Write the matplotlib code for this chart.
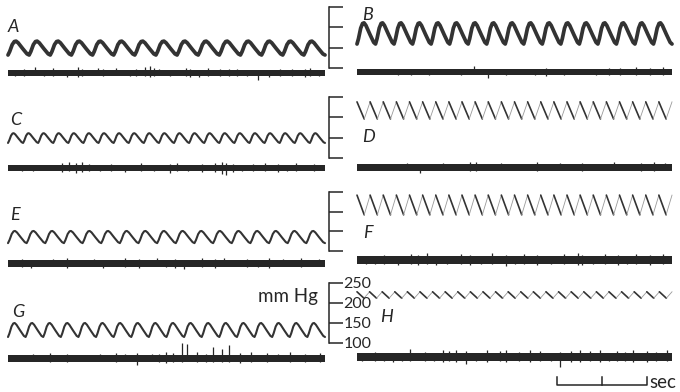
import numpy as np
import matplotlib
matplotlib.use("Agg")
import matplotlib.pyplot as plt

plt.rcParams['font.family'] = ['Lato', 'DejaVu Sans']

# panel letters, beats per trace, systolic / diastolic pressure (mm Hg)
panels = ["A", "B", "C", "D", "E", "F", "G", "H"]
beats = [15, 17, 21, 24, 17, 24, 18, 25]
systolic = [166, 211, 161, 238, 151, 242, 150, 228]
diastolic = [132, 159, 137, 196, 120, 192, 115, 212]
wave_kind = ["thick", "thick", "thin", "vee", "thin", "vee", "thin", "vee"]

# one beat of the rounded pressure wave (phase, fraction of pulse pressure)
wave_phase = [0.0, 0.08, 0.2, 0.3, 0.38, 0.48, 0.7, 0.9, 1.0]
wave_level = [0.0, 0.25, 0.75, 0.97, 1.0, 0.88, 0.45, 0.08, 0.0]
vee_bottom = 0.55  # phase of the diastolic minimum in the V-shaped traces

# nerve activity: band half-width and spikes (time s, up, down) per panel
band_half = [3.0, 3.0, 3.0, 3.5, 3.5, 4.0, 3.5, 4.0]
spikes = [
    [(0.15, 3, 3), (0.35, 4, 3), (0.6, 6, 2), (0.8, 3, 3), (1.0, 5, 3), (1.3, 3, 4),
     (1.55, 6, 4), (1.65, 4, 3), (2.0, 5, 2), (2.1, 4, 3), (2.4, 5, 2), (2.7, 3, 3),
     (2.85, 4, 3), (3.05, 6, 3), (3.15, 7, 4), (3.25, 5, 3), (3.35, 4, 2), (3.6, 3, 3),
     (3.95, 5, 3), (4.05, 4, 4), (4.25, 3, 4), (4.45, 5, 3), (4.7, 4, 3), (4.9, 4, 3),
     (5.1, 4, 3), (5.3, 3, 3), (5.55, 3, 7), (5.8, 3, 4), (6.05, 4, 3), (6.3, 4, 3),
     (6.6, 4, 4), (6.7, 5, 3), (6.9, 3, 3)],
    [(0.4, 3, 2), (0.9, 3, 3), (1.2, 2, 3), (1.6, 3, 3), (2.0, 3, 2), (2.3, 3, 3),
     (2.6, 6, 2), (2.9, 2, 6), (3.3, 3, 3), (3.7, 3, 2), (3.95, 2, 3), (4.2, 4, 4),
     (4.6, 3, 3), (5.0, 3, 2), (5.3, 3, 3), (5.6, 4, 3), (5.85, 4, 3), (6.2, 5, 3),
     (6.5, 4, 3), (6.8, 5, 3)],
    [(0.3, 3, 3), (0.55, 3, 3), (0.8, 3, 2), (1.2, 5, 4), (1.35, 6, 3), (1.5, 5, 5),
     (1.65, 6, 4), (1.8, 4, 3), (2.05, 3, 3), (2.3, 4, 3), (2.6, 3, 4), (2.95, 5, 3),
     (3.25, 3, 3), (3.6, 4, 5), (3.75, 5, 3), (4.0, 3, 3), (4.3, 4, 4), (4.6, 5, 4),
     (4.75, 6, 6), (4.85, 5, 7), (5.0, 4, 4), (5.2, 3, 3), (5.45, 4, 3), (5.7, 5, 3),
     (6.0, 4, 4), (6.2, 3, 3), (6.4, 5, 3), (6.8, 4, 3)],
    [(0.2, 3, 3), (0.5, 3, 3), (0.8, 3, 3), (1.1, 4, 3), (1.4, 3, 6), (1.65, 3, 3),
     (1.9, 4, 3), (2.2, 3, 3), (2.5, 5, 4), (2.65, 5, 4), (2.9, 3, 3), (3.2, 4, 3),
     (3.55, 3, 3), (3.8, 3, 3), (4.0, 5, 4), (4.25, 3, 3), (4.5, 4, 3), (4.75, 3, 3),
     (5.0, 4, 4), (5.35, 3, 3), (5.7, 5, 3), (6.0, 3, 3), (6.3, 4, 4), (6.6, 5, 4),
     (6.85, 4, 3)],
    [(0.1, 3, 3), (0.3, 4, 4), (0.5, 3, 5), (0.75, 3, 3), (1.0, 4, 3), (1.3, 5, 5),
     (1.6, 3, 3), (1.9, 4, 3), (2.1, 3, 5), (2.35, 3, 3), (2.6, 5, 4), (2.9, 4, 5),
     (3.1, 3, 3), (3.3, 5, 3), (3.5, 3, 4), (3.7, 4, 5), (3.9, 3, 6), (4.1, 3, 3),
     (4.3, 5, 4), (4.6, 4, 5), (4.8, 5, 3), (5.05, 3, 3), (5.3, 4, 4), (5.55, 3, 4),
     (5.8, 5, 5), (6.1, 4, 3), (6.3, 3, 3), (6.5, 5, 4), (6.9, 4, 3)],
    [(0.2, 4, 4), (0.4, 4, 4), (0.6, 5, 4), (0.9, 4, 5), (1.2, 6, 4), (1.35, 5, 5),
     (1.55, 7, 4), (1.75, 4, 5), (2.0, 4, 4), (2.3, 6, 4), (2.5, 5, 5), (2.75, 4, 4),
     (3.0, 7, 4), (3.3, 5, 6), (3.5, 4, 4), (3.7, 6, 4), (4.0, 5, 5), (4.3, 4, 4),
     (4.6, 6, 4), (4.9, 7, 5), (5.0, 5, 5), (5.25, 4, 4), (5.5, 6, 4), (5.8, 5, 5),
     (6.0, 4, 4), (6.2, 6, 4), (6.5, 5, 5), (6.8, 6, 4)],
    [(0.25, 3, 3), (0.55, 4, 3), (0.93, 5, 4), (1.1, 3, 3), (1.3, 4, 4), (1.7, 3, 3),
     (2.04, 4, 3), (2.2, 3, 3), (2.4, 5, 4), (2.6, 4, 3), (2.86, 5, 7), (3.05, 3, 3),
     (3.2, 4, 3), (3.35, 4, 4), (3.5, 6, 5), (3.67, 5, 4), (3.86, 15, 4), (3.97, 14, 3),
     (4.2, 6, 4), (4.4, 4, 4), (4.56, 11, 4), (4.75, 9, 4), (4.9, 13, 4), (5.15, 5, 5),
     (5.4, 6, 4), (5.6, 3, 3), (5.75, 5, 4), (6.0, 4, 3), (6.27, 6, 4), (6.6, 4, 4),
     (6.93, 5, 4)],
    [(0.1, 4, 4), (0.4, 5, 4), (0.6, 4, 4), (0.8, 4, 5), (1.0, 4, 4), (1.18, 8, 4),
     (1.5, 5, 4), (1.7, 4, 4), (1.92, 7, 5), (2.05, 6, 4), (2.21, 7, 5), (2.43, 6, 7),
     (2.65, 4, 4), (2.88, 7, 5), (3.17, 6, 4), (3.3, 7, 5), (3.6, 5, 4), (3.84, 7, 5),
     (4.06, 6, 4), (4.3, 4, 4), (4.5, 5, 10), (4.75, 6, 5), (4.95, 7, 5), (5.17, 6, 4),
     (5.4, 7, 5), (5.6, 4, 4), (5.77, 6, 4), (5.95, 5, 4), (6.14, 7, 5), (6.44, 6, 5),
     (6.65, 5, 4), (6.88, 7, 4)],
]

scale_ticks = [100, 150, 200, 250]
sec_bar_start = 4.44
sec_bar_len = 2.0

# layout in pixels of the 680x392 figure
W, H = 680, 392
px_per_sec = 45.0
col_x = [(8, 325), (357, 672)]
row_top = [7, 97, 192, 283]     # 250 mm Hg
row_bot = [68, 158, 251, 343]   # 100 mm Hg
nerve_y = [73, 72, 168, 167, 263, 260, 358, 357]
label_xy = [(8, 32), (362, 20), (10, 125), (362, 142),
            (10, 220), (363, 238), (12, 317), (380, 322)]
ink = "#262626"

fig = plt.figure(figsize=(6.8, 3.92), dpi=100)


def px_axes(x0, y0, x1, y1):
    ax = fig.add_axes([x0 / W, 1 - y1 / H, (x1 - x0) / W, (y1 - y0) / H])
    ax.set_axis_off()
    return ax


for i, name in enumerate(panels):
    row, col = i // 2, i % 2
    x0, x1 = col_x[col]
    T = (x1 - x0) / px_per_sec
    period = T / beats[i]
    pulse = systolic[i] - diastolic[i]

    # pressure trace
    ax = px_axes(x0, row_top[row], x1, row_bot[row])
    ax.set_xlim(0, T)
    ax.set_ylim(100, 250)
    if wave_kind[i] == "vee":
        for k in range(beats[i]):
            ta, tb, tc = k * period, (k + vee_bottom) * period, (k + 1) * period
            ax.plot([ta, tb], [systolic[i], diastolic[i]], color="#333333", lw=1.2,
                    solid_capstyle="round", clip_on=False)
            ax.plot([tb, tc], [diastolic[i], systolic[i]], color="#9a9a9a", lw=0.6,
                    clip_on=False)
    else:
        t = np.concatenate([(k + np.array(wave_phase[:-1])) * period
                            for k in range(beats[i])] + [[T]])
        lev = np.array(wave_level[:-1] * beats[i] + [wave_level[-1]])
        lw = 2.7 if wave_kind[i] == "thick" else 1.5
        ax.plot(t, diastolic[i] + lev * pulse, color="#333333", lw=lw,
                solid_joinstyle="round", solid_capstyle="round", clip_on=False)

    # nerve activity trace
    ny = nerve_y[i]
    axn = px_axes(x0, ny - 16, x1, ny + 16)
    axn.set_xlim(0, T)
    axn.set_ylim(16, -16)
    h = band_half[i]
    axn.fill_between([0, T], [-h, -h], [h, h], color=ink, lw=0)
    st = [s[0] for s in spikes[i]]
    up = [s[1] for s in spikes[i]]
    dn = [s[2] for s in spikes[i]]
    axn.vlines(st, [-u for u in up], dn, color=ink, lw=0.9)

    lx, ly = label_xy[i]
    fig.text(lx / W, 1 - ly / H, name, fontsize=13, style="italic",
             color=ink, ha="left", va="baseline")

# pressure scale brackets between the columns
for row in range(4):
    axs = fig.add_axes([327 / W, 1 - row_bot[row] / H, 2 / W,
                        (row_bot[row] - row_top[row]) / H])
    axs.set_ylim(100, 250)
    axs.set_xticks([])
    for side in ["left", "top", "bottom"]:
        axs.spines[side].set_visible(False)
    axs.spines["right"].set_linewidth(1.1)
    axs.spines["right"].set_color(ink)
    axs.patch.set_visible(False)
    axs.set_yticks(scale_ticks)
    axs.yaxis.tick_right()
    axs.tick_params(axis="y", direction="out", length=10, width=1.1, color=ink,
                    pad=0.5, labelsize=11.5, labelcolor=ink,
                    labelright=(row == 3))

fig.text(318 / W, 1 - 302 / H, "mm Hg", fontsize=13.5, color=ink,
         ha="right", va="baseline")

# time calibration bar
axt = px_axes(357, 377, 672, 385)
axt.set_xlim(0, (672 - 357) / px_per_sec)
axt.set_ylim(0, 1)
axt.plot([sec_bar_start, sec_bar_start, sec_bar_start + sec_bar_len,
          sec_bar_start + sec_bar_len], [1, 0, 0, 1], color=ink, lw=1.1,
         clip_on=False)
axt.plot([sec_bar_start + sec_bar_len / 2] * 2, [0, 1], color=ink, lw=1.1,
         clip_on=False)
fig.text(649 / W, 1 - 388 / H, "sec", fontsize=13.5, color=ink,
         ha="left", va="baseline")

fig.savefig("out.png", dpi=100)
